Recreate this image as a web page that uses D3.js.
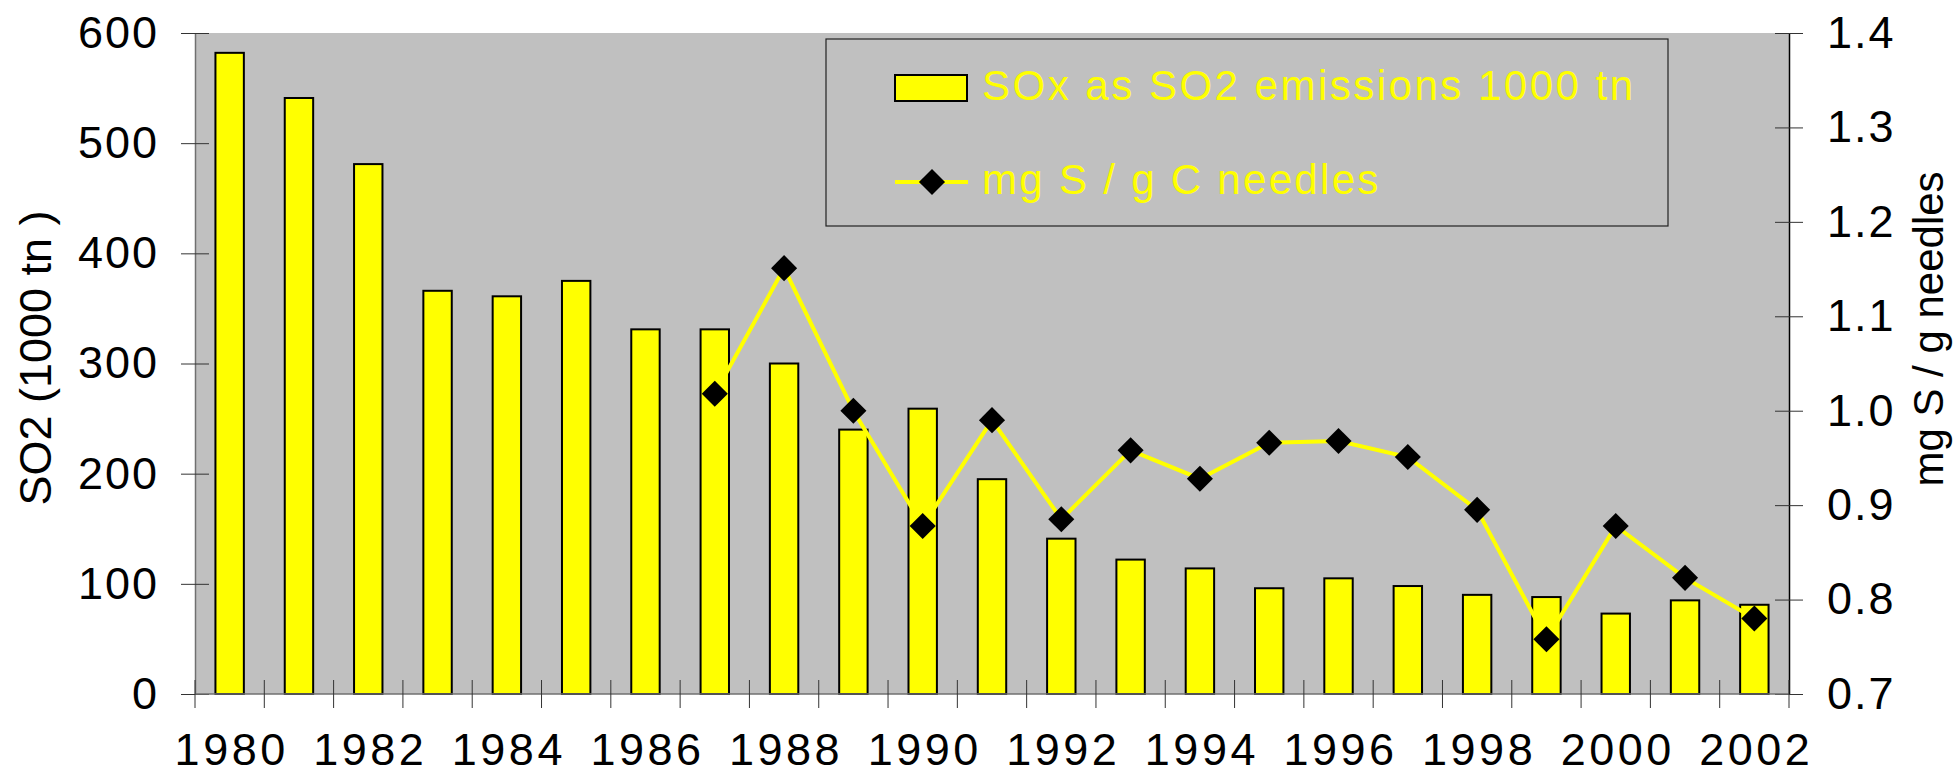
<!DOCTYPE html>
<meta charset="utf-8">
<script src="https://d3js.org/d3.v7.min.js"></script>
<style>
  body { margin: 0; background: #fff; }
  text { font-family: "Liberation Sans", Arial, sans-serif; }
</style>
<div id="chart"></div>
<script>

    // data
    const years = [1980, 1981, 1982, 1983, 1984, 1985, 1986, 1987, 1988, 1989, 1990, 1991,
                   1992, 1993, 1994, 1995, 1996, 1997, 1998, 1999, 2000, 2001, 2002];
    const so2 = [582, 541, 481, 366, 361, 375, 331, 331, 300, 240, 259, 195,
                 141, 122, 114, 96, 105, 98, 90, 88, 73, 85, 81];
    const needles = [null, null, null, null, null, null, null, 1.018, 1.151, 1.000, 0.878, 0.990,
                     0.885, 0.958, 0.928, 0.966, 0.968, 0.951, 0.895, 0.758, 0.878, 0.823, 0.780];
    const leftTicks = [0, 100, 200, 300, 400, 500, 600];
    const rightTicks = [0.7, 0.8, 0.9, 1.0, 1.1, 1.2, 1.3, 1.4];
    const yearLabels = [1980, 1982, 1984, 1986, 1988, 1990, 1992, 1994, 1996, 1998, 2000, 2002];

    const margin = {top: 33, right: 171, bottom: 84, left: 195},
        width = 1960 - margin.left - margin.right,
        height = 778 - margin.top - margin.bottom;

    const root = d3.select("#chart")
        .append("svg")
        .attr("width", 1960)
        .attr("height", 778);

    const svg = root.append("g")
        .attr("transform", `translate(${margin.left},${margin.top})`);

    // grey plot area
    svg.append("rect")
        .attr("width", width)
        .attr("height", height)
        .attr("fill", "#c0c0c0");

    // scales
    const x = d3.scaleBand()
        .domain(years)
        .range([0, width])
        .paddingInner(0.59)
        .paddingOuter(0.295);
    const step = x.step();

    const yL = d3.scaleLinear().domain([0, 600]).range([height, 0]);
    const yR = d3.scaleLinear().domain([0.7, 1.4]).range([height, 0]);

    // bars
    svg.selectAll("rect.bar")
        .data(years)
        .join("rect")
        .attr("class", "bar")
        .attr("x", d => x(d))
        .attr("y", (d, i) => yL(so2[i]))
        .attr("width", x.bandwidth())
        .attr("height", (d, i) => height - yL(so2[i]))
        .attr("fill", "#ffff00")
        .attr("stroke", "#000")
        .attr("stroke-width", 2);

    // left axis
    const gL = svg.append("g")
        .call(d3.axisLeft(yL).tickValues(leftTicks).tickSize(14).tickSizeOuter(0).tickPadding(22));
    gL.select(".domain").attr("stroke", "#707070").attr("stroke-width", 1.5);
    gL.selectAll(".tick line").attr("x1", 14).attr("stroke", "#333");
    gL.selectAll(".tick text").attr("font-size", 45).attr("letter-spacing", 2).attr("fill", "#000");

    // right axis
    const gR = svg.append("g")
        .attr("transform", `translate(${width},0)`)
        .call(d3.axisRight(yR).tickValues(rightTicks).tickFormat(d3.format(".1f"))
            .tickSize(14).tickSizeOuter(0).tickPadding(24));
    gR.select(".domain").attr("stroke", "#000").attr("stroke-width", 1.5);
    gR.selectAll(".tick line").attr("x1", -14).attr("stroke", "#333");
    gR.selectAll(".tick text").attr("font-size", 45).attr("letter-spacing", 2).attr("fill", "#000");

    // bottom axis: line, ticks on category edges, labels every second year
    svg.append("line")
        .attr("x1", 0).attr("x2", width)
        .attr("y1", height).attr("y2", height)
        .attr("stroke", "#707070").attr("stroke-width", 1.5);
    svg.selectAll("line.xtick")
        .data(years.concat([null]))
        .join("line")
        .attr("class", "xtick")
        .attr("x1", (d, i) => i * step)
        .attr("x2", (d, i) => i * step)
        .attr("y1", height - 14)
        .attr("y2", height + 14)
        .attr("stroke", "#333");
    svg.selectAll("text.xlab")
        .data(yearLabels)
        .join("text")
        .attr("class", "xlab")
        .attr("x", d => x(d) + x.bandwidth() / 2 + 2)
        .attr("y", height + 71)
        .attr("text-anchor", "middle")
        .attr("font-size", 45)
        .attr("letter-spacing", 3.5)
        .text(d => d);

    // needles line
    const pts = years.map((d, i) => ({year: d, v: needles[i]}));
    const line = d3.line()
        .defined(d => d.v != null)
        .x(d => x(d.year) + x.bandwidth() / 2)
        .y(d => yR(d.v));
    svg.append("path")
        .datum(pts)
        .attr("d", line)
        .attr("fill", "none")
        .attr("stroke", "#ffff00")
        .attr("stroke-width", 4);

    const diamond = d3.symbol().type(d3.symbolSquare).size(340);
    svg.selectAll("path.pt")
        .data(pts.filter(d => d.v != null))
        .join("path")
        .attr("class", "pt")
        .attr("d", diamond)
        .attr("transform", d => `translate(${x(d.year) + x.bandwidth() / 2},${yR(d.v)}) rotate(45)`)
        .attr("fill", "#000");

    // legend
    const leg = svg.append("g").attr("transform", "translate(631,6)");
    leg.append("rect")
        .attr("width", 842).attr("height", 187)
        .attr("fill", "#c0c0c0")
        .attr("stroke", "#222").attr("stroke-width", 1.2);
    leg.append("rect")
        .attr("x", 69).attr("y", 36).attr("width", 72).attr("height", 26)
        .attr("fill", "#ffff00").attr("stroke", "#000").attr("stroke-width", 2);
    leg.append("text")
        .attr("x", 156).attr("y", 61)
        .attr("font-size", 42).attr("letter-spacing", 2.5)
        .attr("fill", "#ffff00")
        .text("SOx as SO2 emissions 1000 tn");
    leg.append("line")
        .attr("x1", 69).attr("x2", 142).attr("y1", 143).attr("y2", 143)
        .attr("stroke", "#ffff00").attr("stroke-width", 4);
    leg.append("path")
        .attr("d", diamond)
        .attr("transform", "translate(106,143) rotate(45)")
        .attr("fill", "#000");
    leg.append("text")
        .attr("x", 156).attr("y", 155)
        .attr("font-size", 42).attr("letter-spacing", 2.3)
        .attr("fill", "#ffff00")
        .text("mg S / g C needles");

    // axis titles
    root.append("text")
        .attr("transform", "translate(51,358) rotate(-90)")
        .attr("text-anchor", "middle")
        .attr("font-size", 45)
        .text("SO2 (1000 tn )");
    root.append("text")
        .attr("transform", "translate(1943,329) rotate(-90)")
        .attr("text-anchor", "middle")
        .attr("font-size", 42)
        .text("mg S / g needles");

</script>
